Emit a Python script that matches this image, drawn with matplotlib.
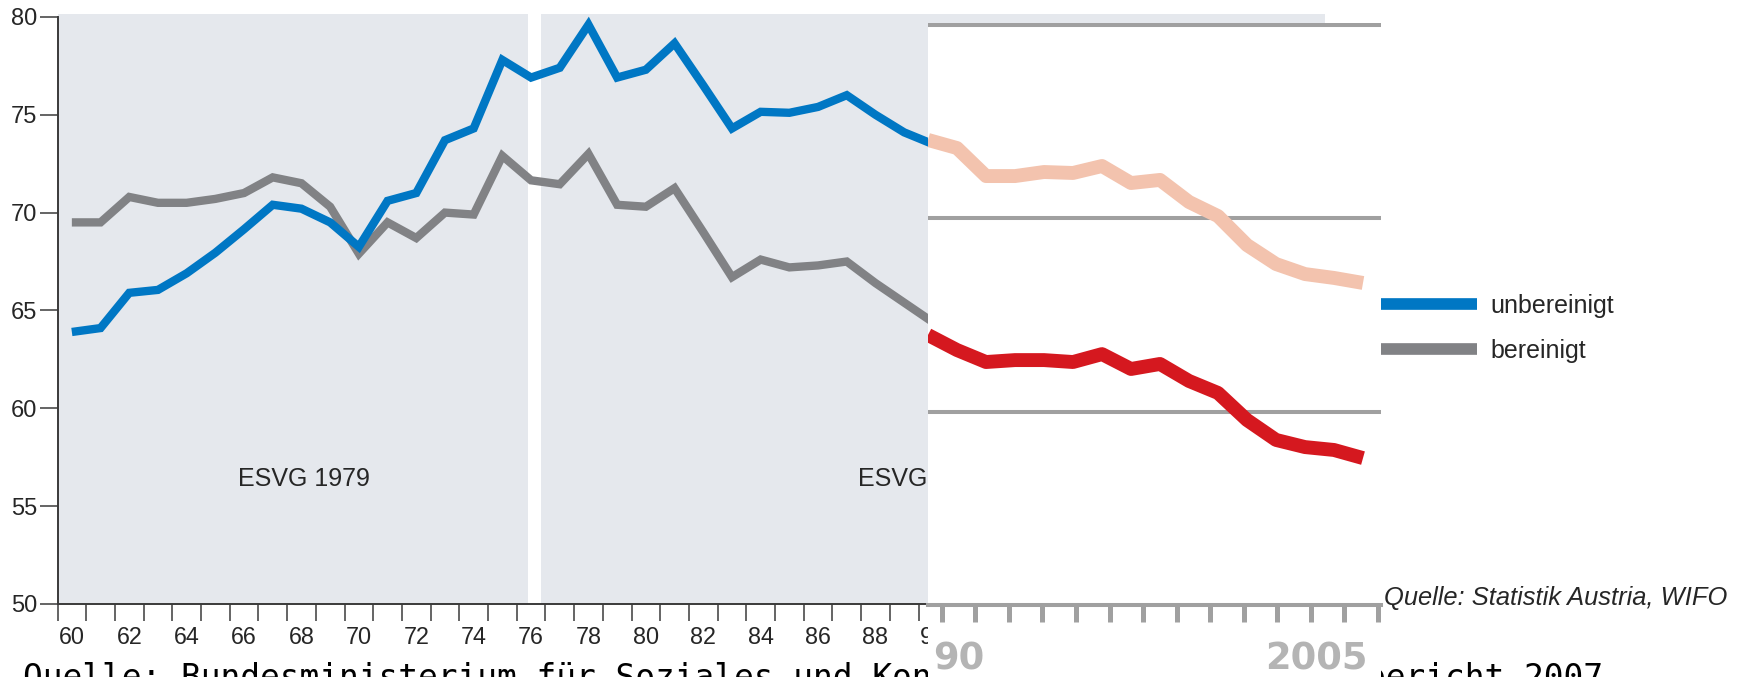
import numpy as np
import matplotlib
matplotlib.use("Agg")
import matplotlib.pyplot as plt
from matplotlib.patches import Rectangle

plt.rcParams['font.family'] = ['Liberation Sans', 'DejaVu Sans']

# ---------------- data ----------------
years = list(range(60, 91))
unbereinigt = [63.9, 64.1, 65.9, 66.05, 66.9, 67.95, 69.15, 70.4, 70.2, 69.5,
               68.25, 70.6, 71.0, 73.7, 74.3, 77.8, 76.9, 77.4, 79.6, 76.9,
               77.3, 78.65, 76.5, 74.3, 75.15, 75.1, 75.4, 76.0, 75.0, 74.1,
               73.5]
bereinigt = [69.5, 69.5, 70.8, 70.5, 70.5, 70.7, 71.0, 71.8, 71.5, 70.3,
             67.9, 69.5, 68.7, 70.0, 69.9, 72.9, 71.65, 71.45, 73.0, 70.4,
             70.3, 71.25, 69.0, 66.7, 67.6, 67.2, 67.3, 67.5, 66.4, 65.4,
             64.4]
xtick_years = list(range(60, 91, 2))
xtick_labels = [f"{y:02d}" for y in xtick_years]
ytick_values = [50, 55, 60, 65, 70, 75, 80]
series_labels = ["unbereinigt", "bereinigt"]
era_labels = ["ESVG 1979", "ESVG 1995"]

# pasted overlay chart (1990-2005)
overlay_years = list(range(1990, 2006))
overlay_upper = [74.06, 73.64, 72.19, 72.19, 72.40, 72.35, 72.71, 71.83,
                 71.99, 70.85, 70.12, 68.62, 67.64, 67.12, 66.92, 66.66]
overlay_lower = [63.97, 63.19, 62.57, 62.67, 62.67, 62.57, 62.98, 62.21,
                 62.47, 61.59, 60.97, 59.57, 58.54, 58.17, 58.02, 57.60]
overlay_grid = [60, 70, 80]
overlay_tick_labels = ["90", "2005"]

source_text = "Quelle: Statistik Austria, WIFO"
caption = "Quelle: Bundesministerium für Soziales und Konsumentenschutz, Sozialbericht 2007"

# ---------------- style ----------------
BLUE = '#0077C4'
GRAY = '#818285'
PANEL = '#E5E8ED'
SALMON = '#F3C3AE'
RED = '#D5181F'
GRID = '#A0A0A0'
TXT = '#262626'

W, H = 1744, 677
fig = plt.figure(figsize=(W / 100, H / 100), dpi=100)
fig.patch.set_facecolor('white')


def fx(px):
    return px / W


def fy(py):
    return 1 - py / H


# ---------------- main axes ----------------
ax = fig.add_axes([fx(57.5), fy(604), fx(1325) - fx(57.5), fy(14) - fy(604)], zorder=0)
ax.set_facecolor('white')
ax.set_xlim(59.5, 59.5 + (1325 - 57.5) / 28.7)
ax.set_ylim(50, 50 + (604 - 14) / 19.57)

ax.axvspan(59.5, 75.88, color=PANEL, lw=0, zorder=0)
ax.axvspan(76.35, 110, color=PANEL, lw=0, zorder=0)

l_blue, = ax.plot(years, unbereinigt, color=BLUE, lw=6, solid_joinstyle='miter',
                  solid_capstyle='butt', zorder=3)
l_gray, = ax.plot(years, bereinigt, color=GRAY, lw=6, solid_joinstyle='miter',
                  solid_capstyle='butt', zorder=2)

for sp in ['top', 'right']:
    ax.spines[sp].set_visible(False)
ax.spines['left'].set_bounds(50, 80)
for sp in ['left', 'bottom']:
    ax.spines[sp].set_color('#3a3a3a')
    ax.spines[sp].set_linewidth(1.4)

ax.set_yticks(ytick_values)
ax.set_yticklabels([str(v) for v in ytick_values])
ax.tick_params(axis='y', length=13, width=1.1, pad=1.5, labelsize=17,
               color='#3a3a3a', labelcolor=TXT)

ax.set_xticks(xtick_years)
ax.set_xticklabels(xtick_labels)
ax.set_xticks(np.arange(59.5, 104, 1), minor=True)
ax.tick_params(axis='x', which='major', length=0, pad=16, labelsize=16.8, labelcolor=TXT)
ax.tick_params(axis='x', which='minor', length=12, width=1.1, color='#3a3a3a')

ax.text(68.08, 56.39, era_labels[0], ha='center', va='center', fontsize=18, color=TXT, zorder=4)
ax.text(87.39, 56.39, era_labels[1], ha='left', va='center', fontsize=18, color=TXT, zorder=4)

# ---------------- overlay (pasted chart) ----------------
ov = fig.add_axes([fx(928), fy(605), fx(1381) - fx(928), fy(23) - fy(605)], zorder=5)
ov.set_facecolor('white')
ov.set_xlim(1990, 1990 + 453 / 29)
ov.set_ylim(50, 50 + (605 - 23) / 19.33)
ov.add_patch(Rectangle((0, -0.2), 1, 0.2, transform=ov.transAxes, clip_on=False,
                       facecolor='white', edgecolor='none', zorder=-1))
ov.set_yticks(overlay_grid)
ov.yaxis.grid(True, color=GRID, lw=2.9)
ov.set_axisbelow(True)
ov.tick_params(axis='y', length=0, labelleft=False)
for sp in ['top', 'right', 'left']:
    ov.spines[sp].set_visible(False)
ov.spines['bottom'].set_color(GRID)
ov.spines['bottom'].set_linewidth(2.9)
x0, x1 = ov.get_xlim()
ov.set_xticks(x0 + (x1 - x0) * np.linspace(0.0303, 0.9934, 14))
ov.tick_params(axis='x', length=12, width=3.6, color=GRID, labelbottom=False)

ov.plot(overlay_years, overlay_upper, color=SALMON, lw=10, solid_capstyle='butt', zorder=3)
ov.plot(overlay_years, overlay_lower, color=RED, lw=10, solid_capstyle='butt', zorder=3)

ov.text(0.068, -0.092, overlay_tick_labels[0], transform=ov.transAxes, ha='center', va='center',
        fontsize=26.6, fontweight='bold', family='DejaVu Sans', color='#B4B4B4', clip_on=False)
ov.text(0.858, -0.092, overlay_tick_labels[1], transform=ov.transAxes, ha='center', va='center',
        fontsize=26.6, fontweight='bold', family='DejaVu Sans', color='#B4B4B4', clip_on=False)

# ---------------- legend and texts ----------------
leg = fig.legend([l_blue, l_gray], series_labels, loc='center left',
                 bbox_to_anchor=(fx(1381), fy(328.5)), frameon=False, fontsize=18,
                 handlelength=3.84, handletextpad=0.52, labelspacing=0.85,
                 borderpad=0, borderaxespad=0)
for t in leg.get_texts():
    t.set_color(TXT)
for ln in leg.get_lines():
    ln.set_linewidth(8.4)

fig.text(fx(1384), fy(605), source_text, style='italic', fontsize=18.4, color=TXT,
         ha='left', va='baseline')

fig.text(fx(23), fy(688), caption, family='DejaVu Sans Mono', fontsize=23.7,
         ha='left', va='baseline', color='black', zorder=1)

fig.savefig('out.png', dpi=100, facecolor='white')
